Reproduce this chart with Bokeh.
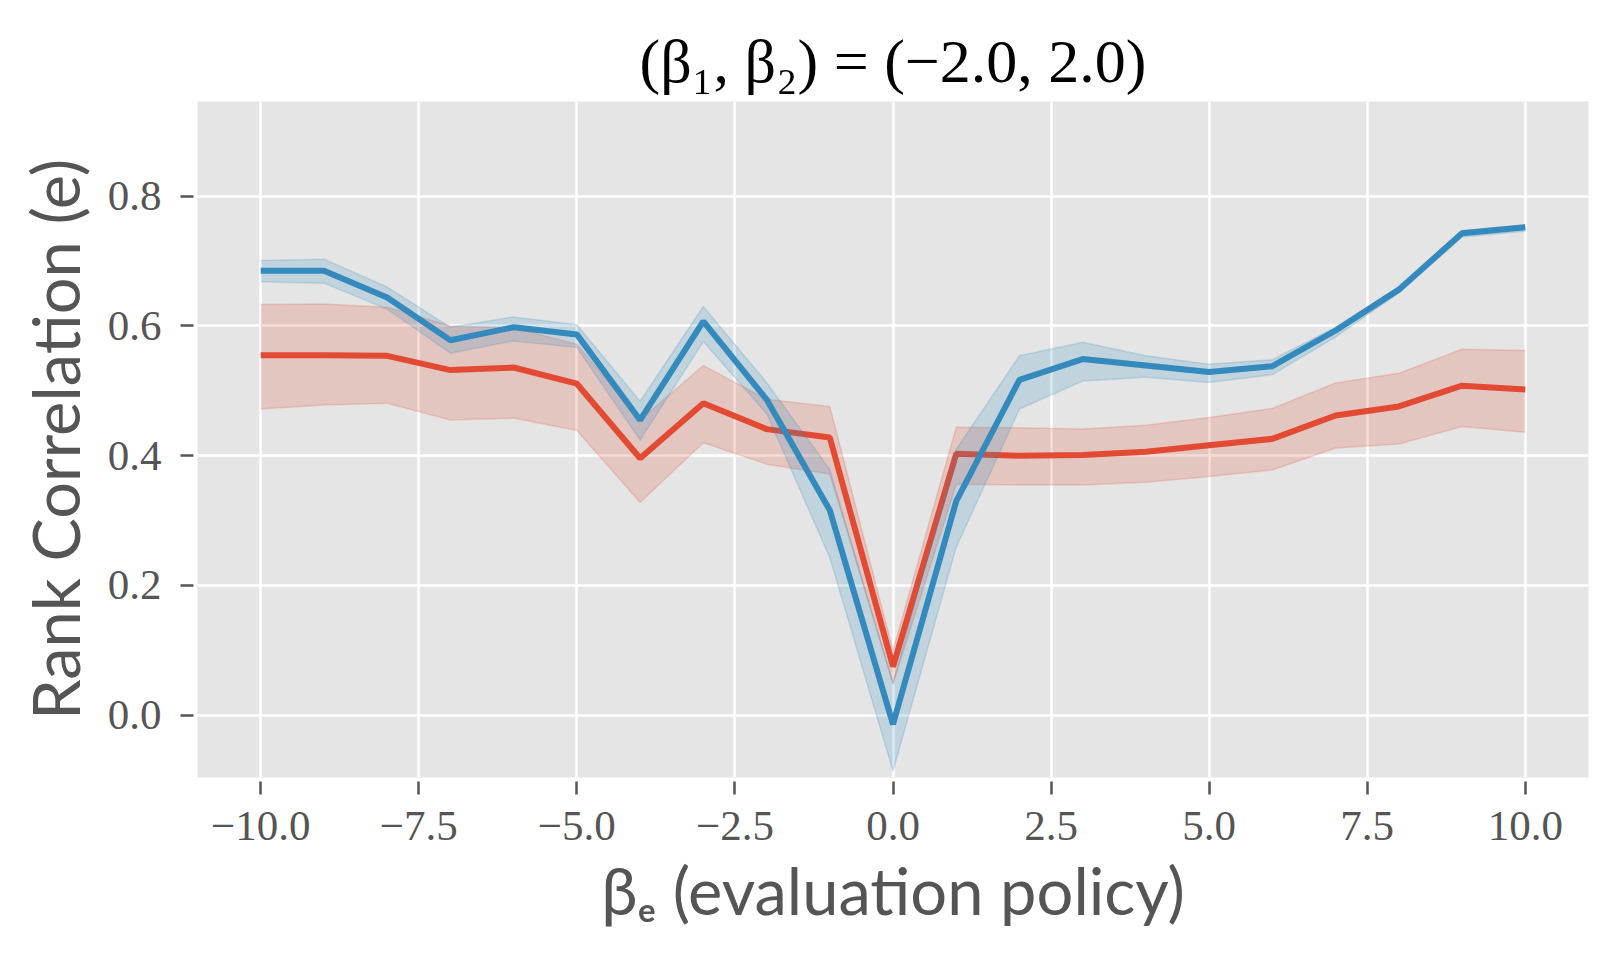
from bokeh.plotting import figure
from bokeh.models import Range1d, FixedTicker, ColumnDataSource
from bokeh.embed import file_html
from bokeh.resources import INLINE

# ---------------- data ----------------
beta_e = [-10, -9, -8, -7, -6, -5, -4, -3, -2, -1, 0, 1, 2, 3, 4, 5, 6, 7, 8, 9, 10]

red_mean = [0.555, 0.555, 0.554, 0.532, 0.536, 0.511, 0.396, 0.481, 0.441, 0.428, 0.075,
            0.403, 0.400, 0.401, 0.406, 0.416, 0.426, 0.462, 0.476, 0.508, 0.502]
red_upper = [0.633, 0.634, 0.629, 0.600, 0.597, 0.572, 0.455, 0.539, 0.487, 0.476, 0.100,
             0.444, 0.443, 0.441, 0.447, 0.459, 0.473, 0.512, 0.527, 0.564, 0.562]
red_lower = [0.472, 0.478, 0.481, 0.455, 0.458, 0.439, 0.328, 0.420, 0.387, 0.372, 0.048,
             0.356, 0.355, 0.355, 0.359, 0.368, 0.378, 0.412, 0.418, 0.445, 0.436]

blue_mean = [0.685, 0.685, 0.644, 0.578, 0.598, 0.587, 0.455, 0.607, 0.487, 0.316, -0.014,
             0.330, 0.517, 0.549, 0.539, 0.529, 0.538, 0.593, 0.656, 0.743, 0.752]
blue_upper = [0.701, 0.703, 0.660, 0.598, 0.614, 0.602, 0.484, 0.630, 0.513, 0.379, 0.050,
              0.410, 0.554, 0.575, 0.554, 0.541, 0.548, 0.598, 0.660, 0.747, 0.756]
blue_lower = [0.668, 0.666, 0.626, 0.558, 0.577, 0.567, 0.424, 0.576, 0.465, 0.243, -0.086,
              0.259, 0.472, 0.515, 0.521, 0.513, 0.525, 0.583, 0.651, 0.737, 0.746]

x_ticks = [-10.0, -7.5, -5.0, -2.5, 0.0, 2.5, 5.0, 7.5, 10.0]
x_tick_labels = ["\u221210.0", "\u22127.5", "\u22125.0", "\u22122.5", "0.0", "2.5", "5.0", "7.5", "10.0"]
y_ticks = [0.0, 0.2, 0.4, 0.6, 0.8]
y_tick_labels = ["0.0", "0.2", "0.4", "0.6", "0.8"]

title_text = "(\u03b2\u2081, \u03b2\u2082) = (\u22122.0, 2.0)"
x_label = "\u03b2\u2091 (evaluation policy)"
y_label = "Rank Correlation (e)"

RED = "#E24A33"
BLUE = "#348ABD"

# ---------------- figure ----------------
p = figure(width=1604, height=942, output_backend="svg", toolbar_location=None,
           x_range=Range1d(-11, 11), y_range=Range1d(-0.096, 0.946),
           min_border_left=197, min_border_right=16, min_border_top=101,
           min_border_bottom=165)
p.background_fill_color = "#E5E5E5"
p.border_fill_color = "white"
p.outline_line_color = None

src = ColumnDataSource(dict(x=beta_e, rm=red_mean, ru=red_upper, rl=red_lower,
                            bm=blue_mean, bu=blue_upper, bl=blue_lower))

# red series
p.varea(x="x", y1="rl", y2="ru", source=src, fill_color=RED, fill_alpha=0.2)
p.line(x="x", y="ru", source=src, line_color=RED, line_alpha=0.2, line_width=1.5)
p.line(x="x", y="rl", source=src, line_color=RED, line_alpha=0.2, line_width=1.5)
p.line(x="x", y="rm", source=src, line_color=RED, line_width=6)

# blue series
p.varea(x="x", y1="bl", y2="bu", source=src, fill_color=BLUE, fill_alpha=0.2)
p.line(x="x", y="bu", source=src, line_color=BLUE, line_alpha=0.2, line_width=1.5)
p.line(x="x", y="bl", source=src, line_color=BLUE, line_alpha=0.2, line_width=1.5)
p.line(x="x", y="bm", source=src, line_color=BLUE, line_width=6)

# grid
for g in (p.xgrid, p.ygrid):
    g.grid_line_color = "white"
    g.grid_line_width = 2.5

# axes
p.xaxis.ticker = FixedTicker(ticks=x_ticks)
p.yaxis.ticker = FixedTicker(ticks=y_ticks)
p.xaxis.major_label_overrides = {t: l for t, l in zip(x_ticks, x_tick_labels)}
p.yaxis.major_label_overrides = {t: l for t, l in zip(y_ticks, y_tick_labels)}

for ax in (p.xaxis[0], p.yaxis[0]):
    ax.axis_line_color = None
    ax.minor_tick_line_color = None
    ax.major_tick_line_color = "#555555"
    ax.major_tick_line_width = 2.5
    ax.major_tick_in = -4
    ax.major_tick_out = 17
    ax.major_label_text_font = "Liberation Serif"
    ax.major_label_text_font_size = "43px"
    ax.major_label_text_color = "#555555"
    ax.axis_label_text_font = "Lato"
    ax.axis_label_text_font_size = "65px"
    ax.axis_label_text_font_style = "normal"
    ax.axis_label_text_color = "#555555"

p.xaxis.axis_label = x_label
p.yaxis.axis_label = y_label
p.xaxis.major_label_standoff = 17
p.yaxis.major_label_standoff = 19
p.xaxis.axis_label_standoff = 8
p.yaxis.axis_label_standoff = 11

p.title.text = title_text
p.title.align = "center"
p.title.text_font = "Liberation Serif"
p.title.text_font_size = "62px"
p.title.text_font_style = "normal"
p.title.text_color = "black"
p.title.standoff = 14

open("out.html", "w").write(file_html(p, INLINE))
